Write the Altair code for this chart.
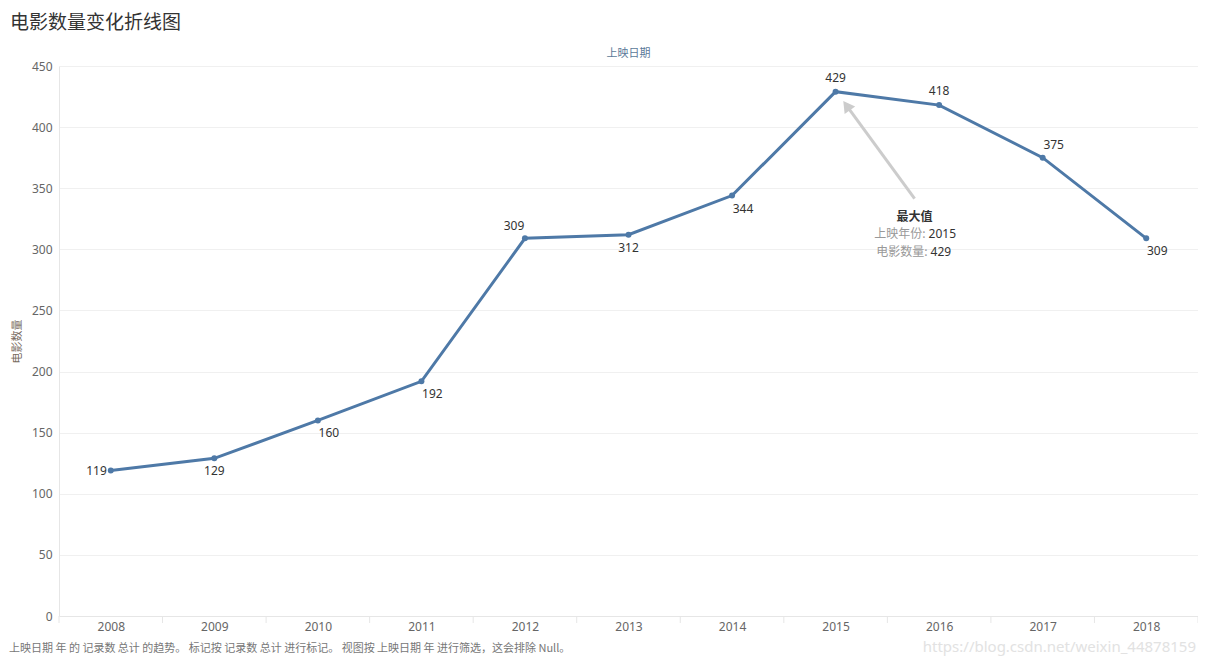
import altair as alt
import pandas as pd

# ---- data ----
years = [2008, 2009, 2010, 2011, 2012, 2013, 2014, 2015, 2016, 2017, 2018]
counts = [119, 129, 160, 192, 309, 312, 344, 429, 418, 375, 309]
label_side = ["left", "below", "below-right", "below-right", "above-left", "below",
              "below-right", "above", "above", "above-right", "below-right"]
y_ticks = [0, 50, 100, 150, 200, 250, 300, 350, 400, 450]

title_text = "电影数量变化折线图"
header_text = "上映日期"
y_title = "电影数量"
note_text = "上映日期 年 的 记录数 总计 的趋势。 标记按 记录数 总计 进行标记。 视图按 上映日期 年 进行筛选，这会排除 Null。"
watermark = "https://blog.csdn.net/weixin_44878159"
ann_title = "最大值"
ann_year_label = "上映年份:"
ann_count_label = "电影数量:"

# ---- layout ----
W, H = 1139, 550
LINE = "#4e79a7"
FONT = "Noto Sans"
CJK = "Noto Sans CJK SC"

df = pd.DataFrame({"year": years, "count": counts, "side": label_side})
bounds = pd.DataFrame({"b": [y - 0.5 for y in years] + [years[-1] + 0.5]})

xs = alt.Scale(domain=[years[0] - 0.5, years[-1] + 0.5], nice=False, zero=False)
ys = alt.Scale(domain=[0, 450], nice=False)

xaxis = alt.Axis(values=years, format="d", title=None, ticks=False, grid=False,
                 domainColor="#e6e6e6", labelColor="#666", labelFontSize=12,
                 labelFont=FONT, labelPadding=5)
yaxis = alt.Axis(values=y_ticks, title=y_title, ticks=False, grid=True,
                 gridColor="#f0f0f0", domainColor="#e6e6e6", labelColor="#666",
                 labelFontSize=12, labelFont=FONT, labelPadding=7,
                 titleFont=CJK, titleFontSize=11, titleFontWeight="normal",
                 titleColor="#776a60", titlePadding=9)

X = alt.X("year:Q", scale=xs, axis=xaxis)
Y = alt.Y("count:Q", scale=ys, axis=yaxis)

base = alt.Chart(df)
line = base.mark_line(color=LINE, strokeWidth=3).encode(x=X, y=Y)
pts = base.mark_circle(color=LINE, size=36, opacity=1).encode(x=X, y=Y)

offsets = {
    "left": dict(align="right", dx=-4, dy=0),
    "below": dict(align="center", dx=0, dy=13),
    "below-right": dict(align="center", dx=11, dy=13),
    "above-left": dict(align="center", dx=-11, dy=-12),
    "above": dict(align="center", dx=0, dy=-14),
    "above-right": dict(align="center", dx=11, dy=-13),
}
labels = []
for side, o in offsets.items():
    labels.append(
        base.transform_filter(alt.datum.side == side)
        .mark_text(font=FONT, fontSize=12, color="#333", baseline="middle", **o)
        .encode(x=alt.X("year:Q", scale=xs), y=alt.Y("count:Q", scale=ys), text="count:Q")
    )

# boundary ticks under x axis
tick_rules = alt.Chart(bounds).mark_rule(color="#e6e6e6", strokeWidth=1).encode(
    x=alt.X("b:Q", scale=xs), y=alt.value(H), y2=alt.value(H + 7))

# annotation for the maximum
imax = df["count"].idxmax()
mx, my = df.loc[imax, "year"], df.loc[imax, "count"]
ppy = W / len(years)      # pixels per year
ppu = H / 450             # pixels per unit
tail = (mx + 79 / ppy, my - 107 / ppu)
head = (mx + 11 / ppy, my - 14 / ppu)
arrow_df = pd.DataFrame({"x": [tail[0]], "y": [tail[1]], "x2": [head[0]], "y2": [head[1]]})
arrow = alt.Chart(arrow_df).mark_rule(color="#cccccc", strokeWidth=3).encode(
    x=alt.X("x:Q", scale=xs), y=alt.Y("y:Q", scale=ys), x2="x2:Q", y2="y2:Q")
arrow_head = alt.Chart(arrow_df).mark_point(
    shape="triangle-up", filled=True, color="#cccccc", opacity=1, size=170, angle=324
).encode(x=alt.X("x2:Q", scale=xs), y=alt.Y("y2:Q", scale=ys))

ann_df = pd.DataFrame({"x": [tail[0]], "y": [tail[1]], "t": [ann_title],
                       "yl": [ann_year_label], "yv": [str(mx)],
                       "cl": [ann_count_label], "cv": [str(my)]})
ann_base = alt.Chart(ann_df).encode(x=alt.X("x:Q", scale=xs), y=alt.Y("y:Q", scale=ys))
ann1 = ann_base.mark_text(font=CJK, fontSize=12, fontWeight="bold", color="#333", dy=18).encode(text="t:N")
ann2a = ann_base.mark_text(font=CJK, fontSize=12, color="#999", align="right", dx=11, dy=35).encode(text="yl:N")
ann2b = ann_base.mark_text(font=FONT, fontSize=12, color="#333", align="left", dx=14, dy=35).encode(text="yv:N")
ann3a = ann_base.mark_text(font=CJK, fontSize=12, color="#999", align="right", dx=13, dy=53).encode(text="cl:N")
ann3b = ann_base.mark_text(font=FONT, fontSize=12, color="#333", align="left", dx=16, dy=53).encode(text="cv:N")

# page texts
def txt(s, x, y, **kw):
    return alt.Chart(pd.DataFrame({"t": [s]})).mark_text(baseline="middle", **kw).encode(
        text="t:N", x=alt.value(x), y=alt.value(y))

title = txt(title_text, -49, -43, font=CJK, fontSize=19, color="#333", align="left")
header = txt(header_text, W / 2, -12, font=CJK, fontSize=11, color="#5b7a99", align="center")
note = txt(note_text, -50, 583, font=CJK, fontSize=11, color="#777", align="left")
wm = txt(watermark, W - 2, 581, font=FONT, fontSize=15, color="#e2e2e2", align="right")

chart = alt.layer(
    tick_rules, line, pts, *labels, arrow, arrow_head,
    ann1, ann2a, ann2b, ann3a, ann3b, title, header, note, wm
).properties(
    width=W, height=H, autosize="none",
    padding={"left": 51, "top": 58, "right": 0, "bottom": 41},
    background="white",
).configure_view(stroke=None)

chart.save("out.html", embed_options={"renderer": "svg", "actions": False})
